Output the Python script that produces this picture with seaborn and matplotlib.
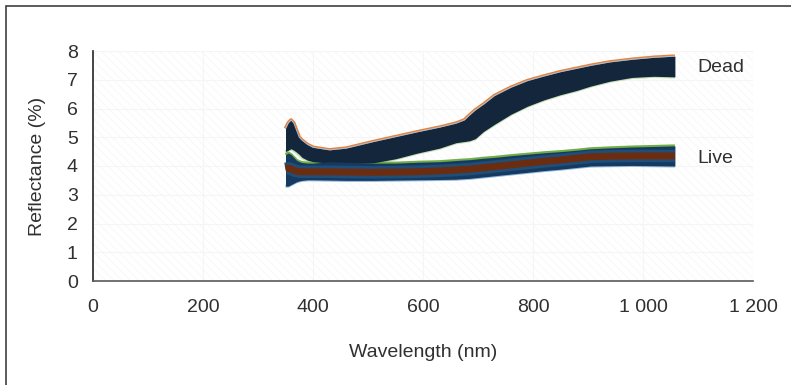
"""
Reflectance spectra of live and dead samples
"""

import matplotlib
matplotlib.use('Agg')
import matplotlib.pyplot as plt
import seaborn as sns
import pandas as pd
from matplotlib.patches import Rectangle

# Wavelength (nm) and the spread of the replicate spectra
wavelength = [350, 355, 360, 365, 370, 375, 380, 390, 400, 430, 460, 510, 550, 590, 630,
              660, 675, 685, 695, 710, 730, 760, 790, 820, 850, 880, 905, 940, 980, 1020, 1058]

dead_hi = [5.30, 5.50, 5.60, 5.50, 5.25, 5.00, 4.90, 4.75, 4.65, 4.56, 4.62, 4.85, 5.02, 5.19, 5.35,
           5.49, 5.60, 5.78, 5.95, 6.15, 6.45, 6.74, 6.97, 7.13, 7.28, 7.40, 7.50, 7.62, 7.71, 7.78, 7.82]
dead_lo = [4.50, 4.55, 4.60, 4.55, 4.48, 4.40, 4.30, 4.20, 4.15, 4.10, 4.08, 4.11, 4.25, 4.45, 4.62,
           4.81, 4.85, 4.88, 4.95, 5.20, 5.45, 5.80, 6.08, 6.30, 6.48, 6.63, 6.78, 6.95, 7.08, 7.12, 7.10]

live_hi = [4.40, 4.45, 4.40, 4.30, 4.20, 4.15, 4.12, 4.10, 4.10, 4.15, 4.13, 4.10, 4.10, 4.13, 4.15,
           4.19, 4.21, 4.22, 4.24, 4.27, 4.30, 4.36, 4.41, 4.46, 4.50, 4.55, 4.60, 4.63, 4.66, 4.68, 4.70]
live_lo = [3.30, 3.30, 3.35, 3.40, 3.45, 3.48, 3.50, 3.52, 3.52, 3.51, 3.50, 3.50, 3.51, 3.52, 3.53,
           3.54, 3.56, 3.57, 3.59, 3.62, 3.66, 3.72, 3.78, 3.84, 3.89, 3.95, 4.00, 4.01, 4.02, 4.01, 4.00]
live_mid = [3.90, 3.92, 3.90, 3.85, 3.82, 3.80, 3.80, 3.80, 3.80, 3.80, 3.79, 3.78, 3.79, 3.80, 3.83,
            3.86, 3.88, 3.89, 3.91, 3.94, 3.98, 4.04, 4.10, 4.16, 4.21, 4.27, 4.32, 4.34, 4.35, 4.35, 4.35]

x_ticks = [0, 200, 400, 600, 800, 1000, 1200]
x_tick_labels = ['0', '200', '400', '600', '800', '1 000', '1 200']
y_ticks = [0, 1, 2, 3, 4, 5, 6, 7, 8]

groups = ['Dead', 'Live']
group_label_y = [7.42, 4.25]

df = pd.DataFrame({
    'wl': wavelength,
    'dead_hi': dead_hi, 'dead_lo': dead_lo,
    'live_hi': live_hi, 'live_lo': live_lo, 'live_mid': live_mid,
})

sns.set_style('white')
plt.rcParams['font.family'] = ['Liberation Sans', 'DejaVu Sans']
plt.rcParams['hatch.linewidth'] = 0.6

TEXT = '#303030'
FS = 14

fig = plt.figure(figsize=(7.91, 3.85), dpi=100)
ax = fig.add_axes([93 / 791, 104 / 385, 660 / 791, 230 / 385])

# faint hatched plot area
ax.add_patch(Rectangle((0, 0), 1, 1, transform=ax.transAxes, facecolor='none',
                       edgecolor='#f6f7f8', hatch='\\\\\\\\', linewidth=0, zorder=0))
ax.grid(True, color='#f5f5f5', linewidth=0.8, zorder=0.5)
ax.set_axisbelow(True)

line_kw = dict(ax=ax, solid_capstyle='butt')

# Dead spectra
sns.lineplot(data=df, x='wl', y='dead_hi', color='#ed7d31', linewidth=2.6, zorder=2, **line_kw)
sns.lineplot(data=df, x='wl', y='dead_lo', color='#c5e0b4', linewidth=2.4, zorder=2, **line_kw)
ax.fill_between(df['wl'], df['dead_lo'], df['dead_hi'], color='#13263b', linewidth=0, zorder=3)
sns.lineplot(data=df, x='wl', y='dead_hi', color='#9dc3e6', linewidth=0.7, zorder=4, **line_kw)

# Live spectra
sns.lineplot(data=df, x='wl', y='live_hi', color='#70ad47', linewidth=2.2, zorder=2, **line_kw)
sns.lineplot(data=df, x='wl', y='live_lo', color='#8fb8de', linewidth=2.2, zorder=2, **line_kw)
ax.fill_between(df['wl'], df['live_lo'], df['live_hi'], color='#163a5f', linewidth=0, zorder=3)
sns.lineplot(data=df, x='wl', y='live_mid', color='#1f4e79', linewidth=9, zorder=4, **line_kw)
sns.lineplot(data=df, x='wl', y='live_mid', color='#6b2c10', linewidth=5, zorder=5, **line_kw)

for name, yy in zip(groups, group_label_y):
    ax.text(1098, yy, name, fontsize=FS, color=TEXT, va='center', ha='left')

ax.set_xlim(0, 1200)
ax.set_ylim(0, 8)
ax.set_xticks(x_ticks)
ax.set_xticklabels(x_tick_labels)
ax.set_yticks(y_ticks)
ax.tick_params(axis='both', length=0, labelsize=FS, colors=TEXT)
ax.tick_params(axis='y', pad=11)
ax.tick_params(axis='x', pad=13)
ax.set_xlabel('Wavelength (nm)', fontsize=FS, color=TEXT, labelpad=20)
ax.set_ylabel('Reflectance (%)', fontsize=FS, color=TEXT, labelpad=15)

for side in ['top', 'right']:
    ax.spines[side].set_visible(False)
ax.spines['left'].set_color('#262626')
ax.spines['bottom'].set_color('#595959')
ax.spines['left'].set_linewidth(1.2)
ax.spines['bottom'].set_linewidth(1.2)

# outer frame (only the left and top edges fall inside the picture)
fig.add_artist(Rectangle((6 / 791, -0.2), 1.2, 1.2 - 5.5 / 385, transform=fig.transFigure,
                         facecolor='none', edgecolor='#404040', linewidth=1.2))

fig.savefig('out.png', dpi=100)
